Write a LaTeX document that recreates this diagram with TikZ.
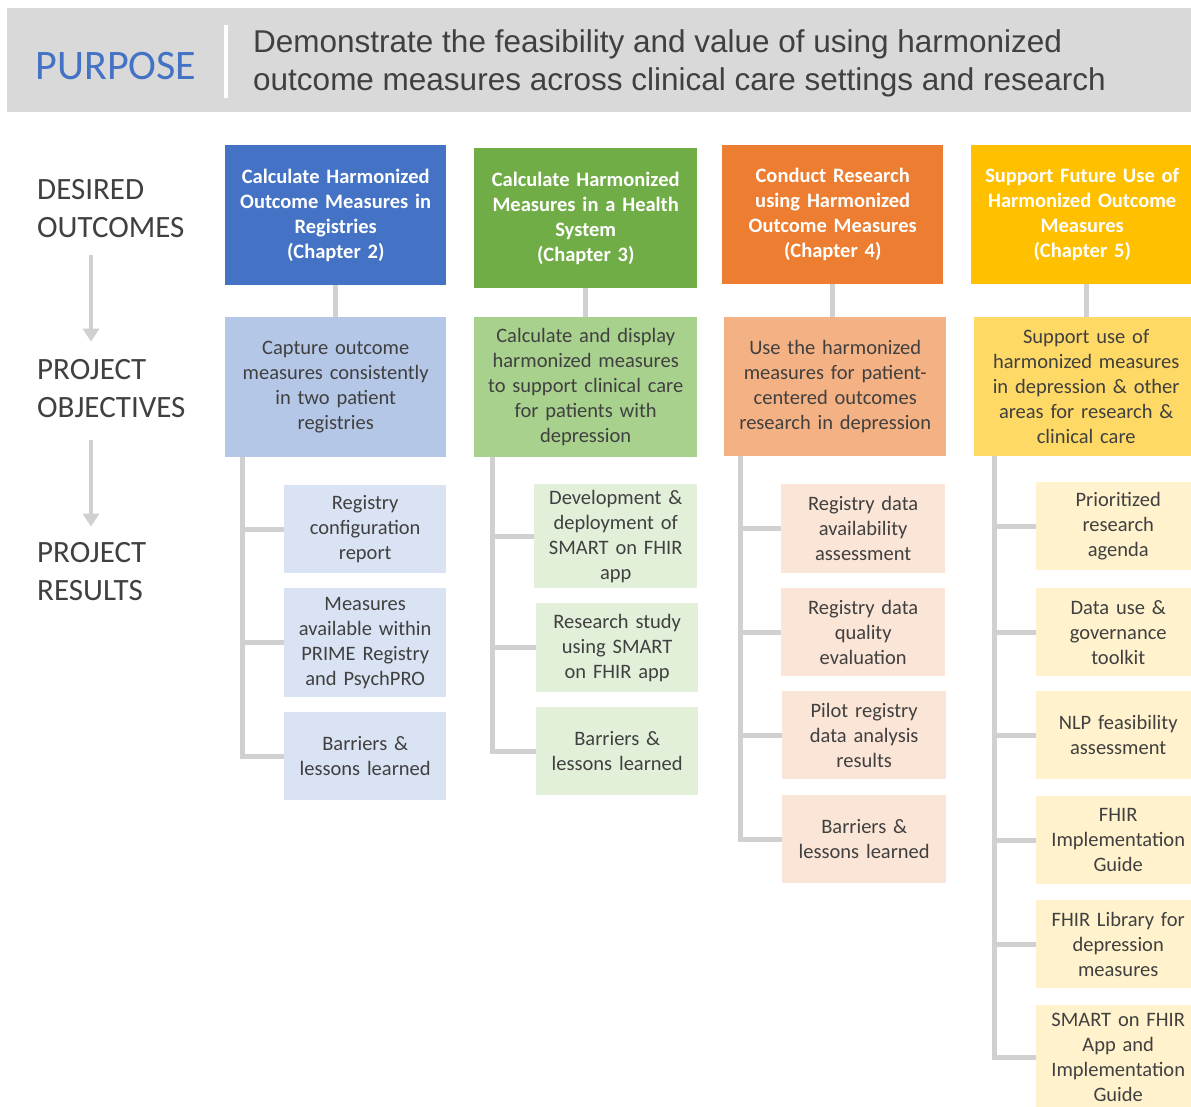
\documentclass[tikz,border=0pt]{standalone}
\usepackage{fontspec}
\setmainfont{Carlito}
\newfontfamily\headfont{Liberation Sans}
\usetikzlibrary{arrows.meta}

\definecolor{hdrgray}{HTML}{D9D9D9}
\definecolor{txtgray}{HTML}{404040}
\definecolor{linegray}{HTML}{D0D0D0}
\definecolor{blueA}{HTML}{4472C4}
\definecolor{blueB}{HTML}{B4C7E7}
\definecolor{blueC}{HTML}{DAE3F3}
\definecolor{greenA}{HTML}{70AD47}
\definecolor{greenB}{HTML}{A9D18E}
\definecolor{greenC}{HTML}{E2F0D9}
\definecolor{orangeA}{HTML}{ED7D31}
\definecolor{orangeB}{HTML}{F4B183}
\definecolor{orangeC}{HTML}{FBE5D6}
\definecolor{yellowA}{HTML}{FFC000}
\definecolor{yellowB}{HTML}{FFD966}
\definecolor{yellowC}{HTML}{FFF2CC}

\begin{document}
\begin{tikzpicture}[x=1pt,y=-1pt,
    box/.style={anchor=north west,inner sep=0pt,align=center,text=txtgray,
      font=\fontsize{20.5}{25}\selectfont},
    goalbox/.style={box,text=white,font=\fontsize{20.5}{25}\selectfont\bfseries,
      minimum width=221pt,text width=215pt,minimum height=140pt},
    objbox/.style={box,minimum width=221pt,text width=215pt,minimum height=140pt},
    resbox/.style={box,minimum width=164pt,text width=160pt,minimum height=88pt},
    sidelabel/.style={anchor=west,inner sep=0pt,align=left,text=txtgray,
      font=\fontsize{31}{38}\selectfont},
    link/.style={draw=linegray,line width=5pt},
    flow/.style={draw=linegray,line width=4pt,-{Triangle[width=16pt,length=13pt]}}]
    \useasboundingbox (0,0) rectangle (1191,1106);

    % purpose banner
    \fill[hdrgray] (7,8) rectangle (1200,112);
    \draw[white,line width=4pt] (226,25) -- (226,98);
    \node[text=blueA,font=\fontsize{42}{46}\selectfont,inner sep=0pt] (purpose) at (116,66) {PURPOSE};
    \node[anchor=west,align=left,inner sep=0pt,text=txtgray,
      font=\headfont\fontsize{31.5}{38}\selectfont] (aim) at (253,63)
      {Demonstrate the feasibility and value of using harmonized\\outcome measures across clinical care settings and research};

    % row labels on the left
    \node[sidelabel] (lab1) at (37,209) {DESIRED\\OUTCOMES};
    \node[sidelabel] (lab2) at (37,389) {PROJECT\\OBJECTIVES};
    \node[sidelabel] (lab3) at (37,572) {PROJECT\\RESULTS};
    \draw[flow] ([xshift=54pt,yshift=-17pt]lab1.south west) -- ([xshift=54pt,yshift=18pt]lab2.north west);
    \draw[flow] ([xshift=54pt,yshift=-22pt]lab2.south west) -- ([xshift=54pt,yshift=16pt]lab3.north west);

    % desired outcomes
    \node[goalbox,fill=blueA] (t1) at (225,145) {Calculate Harmonized\\Outcome Measures in\\Registries\\(Chapter 2)};
    \node[goalbox,fill=greenA,minimum width=223pt] (t2) at (474,148) {Calculate Harmonized\\Measures in a Health\\System\\(Chapter 3)};
    \node[goalbox,fill=orangeA,minimum height=139pt] (t3) at (722,145) {Conduct Research\\using Harmonized\\Outcome Measures\\(Chapter 4)};
    \node[goalbox,fill=yellowA,minimum width=222pt,minimum height=139pt] (t4) at (971,145) {Support Future Use of\\Harmonized Outcome\\Measures\\(Chapter 5)};

    % project objectives
    \node[objbox,fill=blueB] (o1) at (225,317) {Capture outcome\\measures consistently\\in two patient\\registries};
    \node[objbox,fill=greenB,minimum width=223pt] (o2) at (474,317) {Calculate and display\\harmonized measures\\to support clinical care\\for patients with\\depression};
    \node[objbox,fill=orangeB,minimum width=222pt,minimum height=139pt] (o3) at (724,317) {Use the harmonized\\measures for patient-\\centered outcomes\\research in depression};
    \node[objbox,fill=yellowB,minimum width=224pt,minimum height=139pt] (o4) at (974,317) {Support use of\\harmonized measures\\in depression \& other\\areas for research \&\\clinical care};

    \draw[link] (t1.south) -- (t1.south |- o1.north);
    \draw[link] (t2.south) -- (t2.south |- o2.north);
    \draw[link] (t3.south) -- (t3.south |- o3.north);
    \draw[link] (o4.north |- t4.south) -- (o4.north);

    % project results, column 1
    \node[resbox,fill=blueC,minimum width=162pt] (r11) at (284,485) {Registry\\configuration\\report};
    \node[resbox,fill=blueC,minimum width=162pt,minimum height=109pt] (r12) at (284,588) {Measures\\available within\\PRIME Registry\\and PsychPRO};
    \node[resbox,fill=blueC,minimum width=162pt] (r13) at (284,712) {Barriers \&\\lessons learned};

    % column 2
    \node[resbox,fill=greenC,minimum width=163pt,minimum height=104pt] (r21) at (534,484) {Development \&\\deployment of\\SMART on FHIR\\app};
    \node[resbox,fill=greenC,minimum width=162pt,minimum height=89pt] (r22) at (536,603) {Research study\\using SMART\\on FHIR app};
    \node[resbox,fill=greenC,minimum width=162pt] (r23) at (536,707) {Barriers \&\\lessons learned};

    % column 3
    \node[resbox,fill=orangeC,minimum height=89pt] (r31) at (781,484) {Registry data\\availability\\assessment};
    \node[resbox,fill=orangeC] (r32) at (781,588) {Registry data\\quality\\evaluation};
    \node[resbox,fill=orangeC] (r33) at (782,691) {Pilot registry\\data analysis\\results};
    \node[resbox,fill=orangeC] (r34) at (782,795) {Barriers \&\\lessons learned};

    % column 4
    \node[resbox,fill=yellowC] (r41) at (1036,482) {Prioritized\\research\\agenda};
    \node[resbox,fill=yellowC] (r42) at (1036,588) {Data use \&\\governance\\toolkit};
    \node[resbox,fill=yellowC] (r43) at (1036,691) {NLP feasibility\\assessment};
    \node[resbox,fill=yellowC] (r44) at (1036,796) {FHIR\\Implementation\\Guide};
    \node[resbox,fill=yellowC] (r45) at (1036,900) {FHIR Library for\\depression\\measures};
    \node[resbox,fill=yellowC,minimum height=104pt] (r46) at (1036,1005) {SMART on FHIR\\App and\\Implementation\\Guide};

    % trunks from objectives to results
    \foreach \r in {r11,r12,r13}
      \draw[link] ([xshift=17pt]o1.south west) |- (\r.west);
    \foreach \r in {r21,r22,r23}
      \draw[link] ([xshift=18pt]o2.south west) |- (\r.west);
    \foreach \r in {r31,r32,r33,r34}
      \draw[link] ([xshift=16pt]o3.south west) |- (\r.west);
    \foreach \r in {r41,r42,r43,r44,r45,r46}
      \draw[link] ([xshift=20pt]o4.south west) |- (\r.west);
\end{tikzpicture}
\end{document}
